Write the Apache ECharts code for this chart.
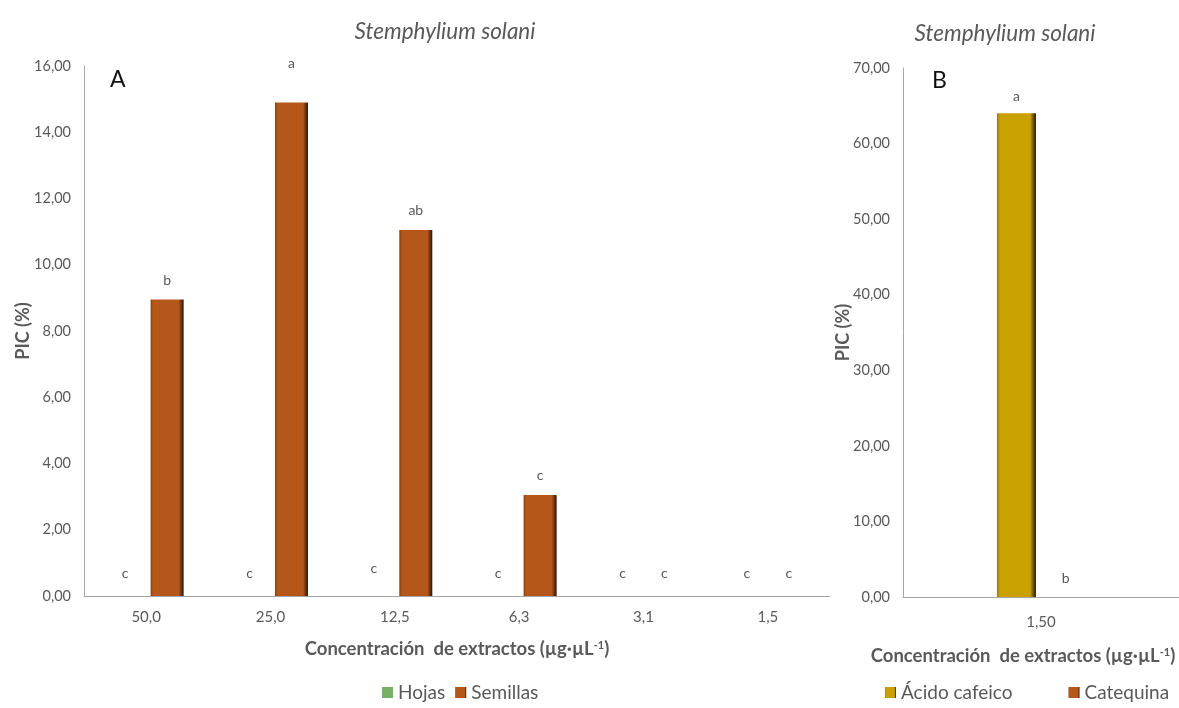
<!DOCTYPE html>
<html>
<head>
<meta charset="utf-8">
<script src="https://cdn.jsdelivr.net/npm/echarts@6/dist/echarts.min.js"></script>
<style>
  html, body { margin: 0; padding: 0; background: #fff; }
  #chart { width: 1179px; height: 708px; }
</style>
</head>
<body>
<div id="chart"></div>
<script>
// datos panel A (extractos)
const concentracionesA = ['50,0', '25,0', '12,5', '6,3', '3,1', '1,5'];
const hojas = [0, 0, 0, 0, 0, 0];
const semillas = [8.95, 14.9, 11.05, 3.05, 0, 0];
const letrasHojas = ['c', 'c', 'c', 'c', 'c', 'c'];
const letrasSemillas = ['b', 'a', 'ab', 'c', 'c', 'c'];

// datos panel B (compuestos)
const concentracionesB = ['1,50'];
const acidoCafeico = [64.0];
const catequina = [0];
const letrasAcido = ['a'];
const letrasCatequina = ['b'];

const FONT = 'Lato';
const GRIS = '#595959';

const coma = v => v.toFixed(2).replace('.', ',');

function bevel(mid, dark) {
    return new echarts.graphic.LinearGradient(0, 0, 1, 0, [
        {offset: 0, color: dark},
        {offset: 0.08, color: mid},
        {offset: 0.85, color: mid},
        {offset: 1, color: '#2a1305'}
    ]);
}
const marron = bevel('#b5561b', '#8a3d0e');
const dorado = bevel('#c9a100', '#9a7a00');
const verde = '#76b064';

function barras(name, values, letras, color, xi, distFn) {
    return {
        name: name,
        type: 'bar',
        xAxisIndex: xi,
        yAxisIndex: xi,
        data: values.map((v, i) => ({
            value: v,
            label: {distance: distFn(v, i)}
        })),
        itemStyle: {color: color},
        label: {
            show: true,
            position: 'top',
            color: GRIS,
            fontFamily: FONT,
            fontSize: 14,
            formatter: p => letras[p.dataIndex]
        }
    };
}

function tituloX(shift) {
    return {
        padding: [0, shift, 0, 0],
        rich: {
            a: {fontFamily: FONT, fontSize: 18.5, fontWeight: 'bold', color: GRIS},
            s: {fontFamily: FONT, fontSize: 11, fontWeight: 'bold', color: GRIS, verticalAlign: 'top', padding: [0, 0, 7, 0]}
        }
    };
}
const nombreX = '{a|Concentración  de extractos (µg·µL}{s|-1}{a|)}';

function ejeY(gi, max, interval, gap) {
    return {
        type: 'value',
        gridIndex: gi,
        min: 0,
        max: max,
        interval: interval,
        name: 'PIC (%)',
        nameLocation: 'middle',
        nameGap: gap,
        nameMoveOverlap: false,
        nameTextStyle: {fontFamily: FONT, fontSize: 18, fontWeight: 'bold', color: GRIS},
        axisLine: {show: true, lineStyle: {color: '#a6a6a6', width: 1}},
        axisTick: {show: false},
        splitLine: {show: false},
        axisLabel: {fontFamily: FONT, fontSize: 14.5, color: GRIS, margin: 13, formatter: coma}
    };
}

function ejeX(gi, cats, margin, gap, shift) {
    return {
        type: 'category',
        gridIndex: gi,
        data: cats,
        name: nombreX,
        nameLocation: 'middle',
        nameGap: gap,
        nameMoveOverlap: false,
        nameTextStyle: tituloX(shift),
        axisLine: {lineStyle: {color: '#a6a6a6', width: 1}},
        axisTick: {show: false},
        axisLabel: {fontFamily: FONT, fontSize: 15, color: GRIS, margin: margin}
    };
}

const tituloStyle = {fontFamily: FONT, fontSize: 22.5, fontStyle: 'italic', fontWeight: 'normal', color: GRIS};
const letraStyle = {fontFamily: FONT, fontSize: 23, fontWeight: 'normal', color: '#111'};
const leyendaStyle = {fontFamily: FONT, fontSize: 19, color: GRIS};

const option = {
    animation: false,
    backgroundColor: '#fff',
    title: [
        {text: 'Stemphylium solani', left: 440, top: 15, textAlign: 'center', textStyle: tituloStyle},
        {text: 'Stemphylium solani', left: 1000, top: 17, textAlign: 'center', textStyle: tituloStyle},
        {text: 'A', left: 105, top: 63, textStyle: letraStyle},
        {text: 'B', left: 927, top: 64, textStyle: letraStyle}
    ],
    legend: [
        {data: ['Hojas', 'Semillas'], left: 377, top: 678,
            icon: 'rect', itemWidth: 11, itemHeight: 11, itemGap: 10,
            textStyle: leyendaStyle},
        {data: ['Ácido cafeico', 'Catequina'], left: 880, top: 678,
            icon: 'rect', itemWidth: 11, itemHeight: 11, itemGap: 56,
            textStyle: leyendaStyle}
    ],
    grid: [
        {left: 84, right: 349, top: 66, bottom: 112, outerBoundsMode: 'none'},
        {left: 903, right: 0, top: 68, bottom: 111, outerBoundsMode: 'none'}
    ],
    xAxis: [ejeX(0, concentracionesA, 14, 44, 0), ejeX(1, concentracionesB, 18, 50, 36)],
    yAxis: [ejeY(0, 16, 2, 52), ejeY(1, 70, 10, 51)],
    series: [
        Object.assign(barras('Hojas', hojas, letrasHojas, verde, 0, (v, i) => i === 2 ? 21 : 16),
            {barWidth: 33, barGap: '27%'}),
        Object.assign(barras('Semillas', semillas, letrasSemillas, marron, 0, (v, i) => v === 0 ? 16 : (i === 1 ? 32 : 12)),
            {barWidth: 33, barGap: '27%'}),
        Object.assign(barras('Ácido cafeico', acidoCafeico, letrasAcido, dorado, 1, () => 10),
            {barWidth: 39, barGap: '26%'}),
        Object.assign(barras('Catequina', catequina, letrasCatequina, marron, 1, () => 12),
            {barWidth: 39, barGap: '26%'})
    ]
};

echarts.init(document.getElementById('chart')).setOption(option);
</script>
</body>
</html>
